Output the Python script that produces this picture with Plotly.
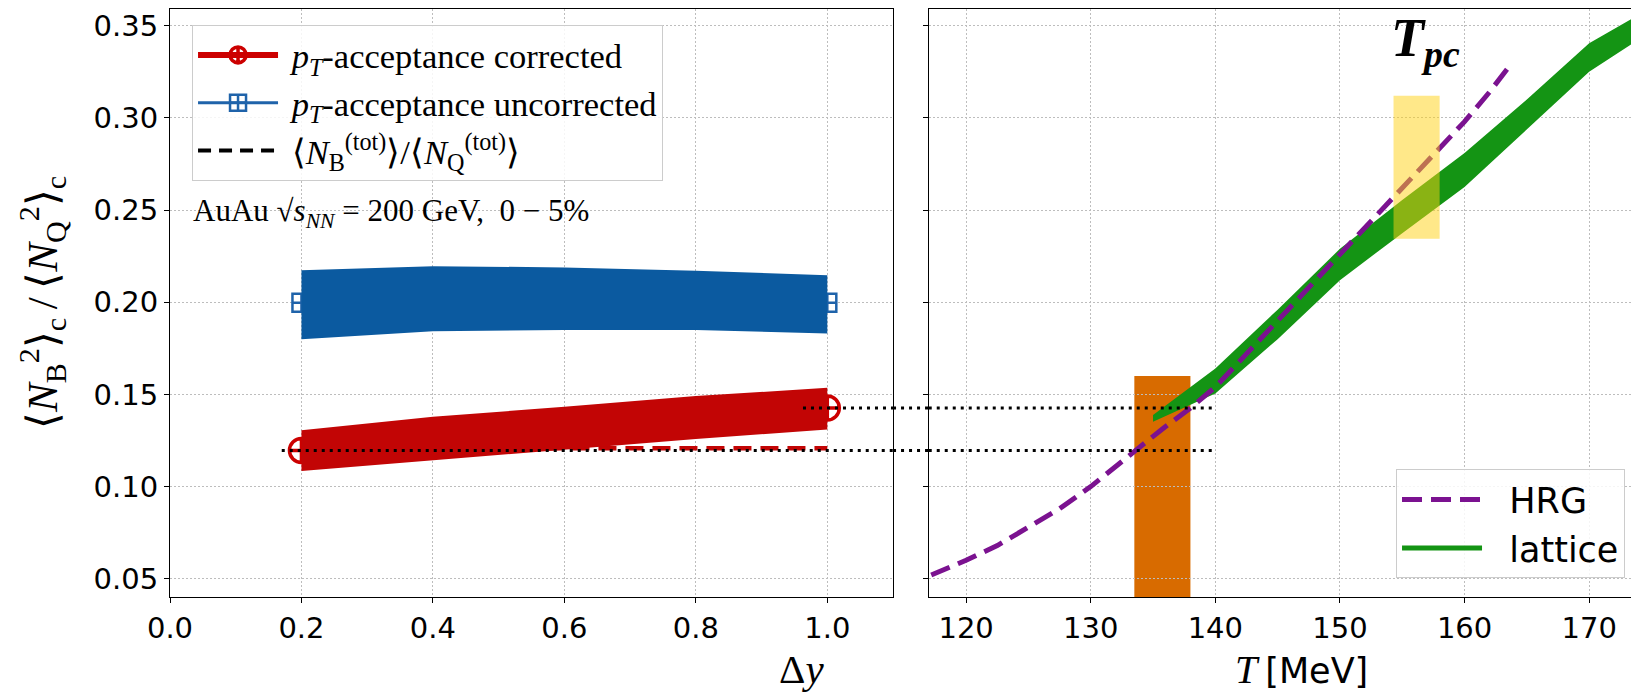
import plotly.graph_objects as go

# ---------------- data ----------------
dy = [0.2, 0.4, 0.6, 0.8, 1.0]
corr_lo = [0.1085, 0.1143, 0.1200, 0.1258, 0.1310]
corr_hi = [0.1306, 0.1379, 0.1433, 0.1491, 0.1536]
uncorr_lo = [0.1800, 0.1843, 0.1849, 0.1849, 0.1831]
uncorr_hi = [0.2174, 0.2196, 0.2189, 0.2171, 0.2147]

pt_dy = [0.2, 1.0]
corr_pts = [0.1196, 0.1426]
uncorr_pts = [0.1997, 0.1997]
ratio_tot = [0.1208, 0.1208]

hrg_T = [117.2, 120, 122.5, 125, 127.5, 130, 132, 133.5, 135.7, 138, 140,
         142.5, 145, 147.5, 150, 152.5, 155, 157.5, 160, 162, 163.7]
hrg_val = [0.052, 0.060, 0.068, 0.078, 0.088, 0.100, 0.111, 0.1196, 0.131, 0.1426, 0.154,
           0.172, 0.190, 0.208, 0.226, 0.244, 0.262, 0.280, 0.298, 0.314, 0.329]

lat_T = [135, 140, 145, 150, 155, 160, 165, 170, 175]
lat_lo = [0.1352, 0.1505, 0.1800, 0.2120, 0.2375, 0.2625, 0.2940, 0.3250, 0.3470]
lat_hi = [0.1388, 0.1640, 0.1960, 0.2290, 0.2555, 0.2810, 0.3100, 0.3405, 0.3600]

tpc_T = [154.3, 158.0]
tpc_val = [0.2345, 0.3120]
match_T = [133.5, 138.0]
match_top = 0.160

link_dy_start = [0.17, 0.963]   # where the dotted guide lines begin (left panel)
link_T_end = 140.0              # where they end (right panel)

y_range = [0.0401, 0.3591]
x_range = [0.0, 1.1]
x2_range = [117.0, 174.0]

# ---------------- style ----------------
RED = "#c20505"
RED_M = "#cc0000"
BLUE = "#0b5aa0"
BLUE_M = "#1f63aa"
GREEN = "#149414"
PURPLE = "#7b1290"
ORANGE = "#d86b00"
SERIF = "Liberation Serif"
SANS = "DejaVu Sans"
NB = "\u00a0"
dom1 = [0.0, 0.4922]
dom2 = [0.5165, 1.0]

fig = go.Figure()

# left panel
fig.add_trace(go.Scatter(x=pt_dy, y=ratio_tot, mode="lines", showlegend=False,
                         line=dict(color=RED, width=4.5, dash="18px,9px"),
                         xaxis="x", yaxis="y", hoverinfo="skip"))
fig.add_trace(go.Scatter(x=pt_dy, y=corr_pts, mode="lines+markers",
                         name=NB + "<i>p</i><sub><i>T</i></sub>-acceptance corrected",
                         line=dict(color=RED_M, width=6),
                         marker=dict(symbol="circle-cross-open", size=24,
                                     line=dict(color=RED_M, width=3.5), color=RED_M),
                         xaxis="x", yaxis="y", legend="legend"))
fig.add_trace(go.Scatter(x=pt_dy, y=uncorr_pts, mode="lines+markers",
                         name=NB + "<i>p</i><sub><i>T</i></sub>-acceptance uncorrected",
                         line=dict(color=BLUE_M, width=3),
                         marker=dict(symbol="square-cross-open", size=18,
                                     line=dict(color=BLUE_M, width=2.5), color=BLUE_M),
                         xaxis="x", yaxis="y", legend="legend"))
fig.add_trace(go.Scatter(x=dy + dy[::-1], y=uncorr_hi + uncorr_lo[::-1], fill="toself",
                         fillcolor=BLUE, line=dict(width=0), mode="lines",
                         showlegend=False, xaxis="x", yaxis="y", hoverinfo="skip"))
fig.add_trace(go.Scatter(x=dy + dy[::-1], y=corr_hi + corr_lo[::-1], fill="toself",
                         fillcolor=RED, line=dict(width=0), mode="lines",
                         showlegend=False, xaxis="x", yaxis="y", hoverinfo="skip"))
fig.add_trace(go.Scatter(x=[None], y=[None], mode="lines",
                         name=NB + "⟨<i>N</i><sub>B</sub><sup>(tot)</sup>⟩/⟨<i>N</i><sub>Q</sub><sup>(tot)</sup>⟩",
                         line=dict(color="black", width=4, dash="13px,8px"),
                         xaxis="x", yaxis="y", legend="legend"))

# right panel
fig.add_trace(go.Scatter(x=lat_T + lat_T[::-1], y=lat_hi + lat_lo[::-1], fill="toself",
                         fillcolor=GREEN, line=dict(width=0, color=GREEN), mode="lines",
                         showlegend=False, xaxis="x2", yaxis="y2", hoverinfo="skip"))
fig.add_trace(go.Scatter(x=hrg_T, y=hrg_val, mode="lines", name=NB * 2 + "HRG",
                         line=dict(color=PURPLE, width=5, dash="20px,9px"),
                         xaxis="x2", yaxis="y2", legend="legend2"))
fig.add_trace(go.Scatter(x=[None], y=[None], mode="lines", name=NB * 2 + "lattice",
                         line=dict(color=GREEN, width=5),
                         xaxis="x2", yaxis="y2", legend="legend2"))

shapes = []
# orange matching region (under the grid, like matplotlib patches)
shapes.append(dict(type="rect", xref="x2", yref="y2", x0=match_T[0], x1=match_T[1],
                   y0=y_range[0], y1=match_top, fillcolor=ORANGE, line=dict(width=0),
                   layer="below"))
# yellow T_pc band on top
shapes.append(dict(type="rect", xref="x2", yref="y2", x0=tpc_T[0], x1=tpc_T[1],
                   y0=tpc_val[0], y1=tpc_val[1], fillcolor="rgba(255,210,20,0.5)",
                   line=dict(width=0), layer="above"))
# dotted guide lines crossing both panels
dot = dict(color="black", width=3, dash="3px,5px")
for xs, lv in zip(link_dy_start, corr_pts):
    shapes.append(dict(type="line", xref="x", yref="y", x0=xs, x1=x_range[1],
                       y0=lv, y1=lv, line=dot, layer="above"))
    shapes.append(dict(type="line", xref="paper", yref="y", x0=dom1[1], x1=dom2[0],
                       y0=lv, y1=lv, line=dot, layer="above"))
    shapes.append(dict(type="line", xref="x2", yref="y2", x0=x2_range[0], x1=link_T_end,
                       y0=lv, y1=lv, line=dot, layer="above"))

axis_common = dict(showline=True, linecolor="black", linewidth=1, ticks="outside",
                   ticklen=5, tickwidth=1, tickcolor="black", showgrid=True,
                   gridcolor="#bdbdbd", griddash="2px,2px", gridwidth=1, zeroline=False,
                   tickfont=dict(family=SANS, size=29, color="black"))

# the page body has an 8px margin: the figure is sized to fit the 1639x694 window
fig.update_layout(
    width=1631, height=686,
    margin=dict(l=162, r=0, t=1, b=97),
    paper_bgcolor="white", plot_bgcolor="white",
    shapes=shapes,
    xaxis=dict(domain=dom1, range=x_range, dtick=0.2, tick0=0, tickformat=".1f",
               anchor="y", mirror=True, **axis_common),
    yaxis=dict(range=y_range, dtick=0.05, tick0=0.05, tickformat=".2f", anchor="x",
               mirror=True, **axis_common),
    xaxis2=dict(domain=dom2, range=x2_range, dtick=10, tick0=120, anchor="y2",
                mirror=True, **axis_common),
    yaxis2=dict(range=y_range, matches="y", dtick=0.05, tick0=0.05, anchor="x2",
                showticklabels=False, mirror=False, **axis_common),
    legend=dict(x=0.015, y=0.9728, xanchor="left", yanchor="top",
                bgcolor="rgba(255,255,255,0.85)", bordercolor="#cccccc", borderwidth=1,
                font=dict(family=SERIF, size=34.5, color="black"), itemwidth=80,
                traceorder="normal"),
    legend2=dict(x=0.8346, y=0.0318, xanchor="left", yanchor="bottom",
                 bgcolor="rgba(255,255,255,0.85)", bordercolor="#cccccc", borderwidth=1,
                 font=dict(family=SANS, size=35, color="black"), itemwidth=80),
    annotations=[
        dict(text="AuAu √<i>s</i><sub><i>NN</i></sub> = 200 GeV,  0 − 5%",
             xref="paper", yref="paper", x=0.0141, y=0.653, xanchor="left",
             yanchor="middle", showarrow=False,
             font=dict(family=SERIF, size=31, color="black")),
        dict(text="<b><i>T</i></b><sub><b><i>pc</i></b></sub>", xref="x2", yref="y2",
             x=156.9, y=0.3414, showarrow=False,
             font=dict(family=SERIF, size=54, color="black")),
        dict(text="⟨<i>N</i><sub>B</sub><sup>2</sup>⟩<sub>c</sub>\u2009/\u2009⟨<i>N</i><sub>Q</sub><sup>2</sup>⟩<sub>c</sub>",
             xref="paper", yref="paper", x=-0.0871, y=0.5, textangle=-90,
             xanchor="center", yanchor="middle",
             showarrow=False, font=dict(family=SERIF, size=43, color="black")),
        dict(text="Δ<i>y</i>", xref="paper", yref="paper", x=0.4296, y=-0.1225,
             showarrow=False, xanchor="center", yanchor="middle",
             font=dict(family=SERIF, size=41, color="black")),
        dict(text="<i>T</i>\u2009<span style='font-family:DejaVu Sans;font-size:35px'>[MeV]</span>",
             xref="paper", yref="paper", x=0.770, y=-0.1225, showarrow=False,
             xanchor="center", yanchor="middle",
             font=dict(family=SERIF, size=40, color="black")),
    ],
)

fig.write_html("out.html")
